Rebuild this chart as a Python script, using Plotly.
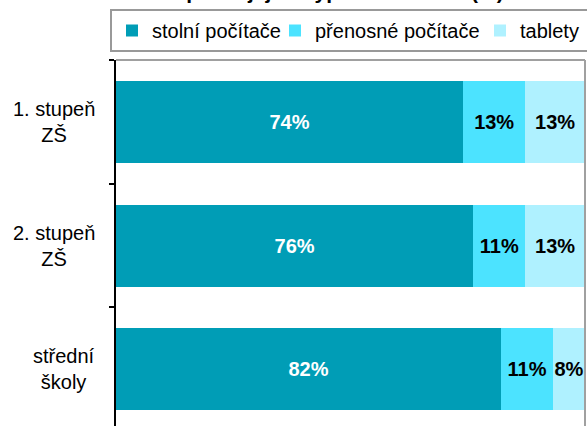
import plotly.graph_objects as go

# ---- data ----
categories = ["1. stupeň<br>ZŠ", "2. stupeň<br>ZŠ", "střední<br>školy"]
series_names = ["stolní počítače", "přenosné počítače", "tablety"]
stolni = [74.0, 76.2, 82.1]
prenosne = [13.3, 11.1, 11.1]
tablety = [12.7, 12.7, 6.8]
labels_stolni = ["74%", "76%", "82%"]
labels_prenosne = ["13%", "11%", "11%"]
labels_tablety = ["13%", "13%", "8%"]
title_text = "Počítače podle jejich typu ve školách (%)"

FONT = "Liberation Sans, Arial, sans-serif"
colors = ["#009DB6", "#4CE3FF", "#AFF1FF"]
label_colors = ["white", "black", "black"]
legend_widths = [118, 160, 68]

W, H = 587, 426
ML, MR, MT = 116, 2, 60
plot_h = H - MT
plot_w = W - ML - MR
band_px = 123.7
y_bottom = -0.5 + plot_h / band_px

fig = go.Figure()
for name, vals, labs, col, lc, lw in zip(series_names,
                                         [stolni, prenosne, tablety],
                                         [labels_stolni, labels_prenosne, labels_tablety],
                                         colors, label_colors, legend_widths):
    fig.add_trace(go.Bar(
        y=categories, x=vals, name=name, orientation="h",
        marker=dict(color=col, line=dict(width=0)),
        text=labs, textposition="inside", insidetextanchor="middle",
        constraintext="none", textangle=0,
        textfont=dict(family=FONT, size=20, color=lc, weight="bold"),
        hoverinfo="skip", legendwidth=lw,
    ))

# category labels (centered multi-line blocks, right-aligned to axis)
for c in categories:
    fig.add_annotation(
        xref="paper", yref="y", x=(97 - ML) / plot_w, y=c,
        text=c, showarrow=False, xanchor="right", yanchor="middle",
        align="center", font=dict(family=FONT, size=20, color="black"),
    )

# title (mostly cut off above the visible area)
fig.add_annotation(
    xref="paper", yref="paper", x=(299 - ML) / plot_w,
    y=(H - 4.5) / plot_h, text="<b>" + title_text + "</b>",
    showarrow=False, xanchor="center", yanchor="bottom",
    font=dict(family=FONT, size=21, color="black"),
)

# plot-area frame (top and right, gray)
fig.add_shape(type="line", xref="paper", yref="paper", x0=0, x1=1, y0=1, y1=1,
              line=dict(color="#A0A0A0", width=2))
fig.add_shape(type="line", xref="paper", yref="paper", x0=1, x1=1, y0=0, y1=1,
              line=dict(color="#A0A0A0", width=2))

fig.update_layout(
    width=W, height=H,
    margin=dict(l=ML, r=MR, t=MT, b=0, pad=0, autoexpand=False),
    barmode="stack", bargap=0.337,
    paper_bgcolor="white", plot_bgcolor="white",
    font=dict(family=FONT, size=19, color="black"),
    showlegend=True,
    legend=dict(
        orientation="h", x=-6 / plot_w, xanchor="left",
        y=(H - 9) / plot_h, yanchor="top",
        bordercolor="#999999", borderwidth=2, bgcolor="white",
        font=dict(family=FONT, size=20, color="black"),
        traceorder="normal", itemclick=False,
    ),
    xaxis=dict(range=[0, 100], visible=False, fixedrange=True),
    yaxis=dict(
        type="category", categoryorder="array", categoryarray=categories,
        range=[y_bottom, -0.5], showticklabels=False,
        showline=True, linecolor="black", linewidth=2,
        ticks="outside", tickson="boundaries", ticklen=5, tickwidth=2,
        tickcolor="black", showgrid=False, zeroline=False, fixedrange=True,
    ),
)

fig.write_html(
    "out.html",
    config={"displayModeBar": False, "staticPlot": True},
    post_script="document.body.style.margin='0';document.body.style.overflow='hidden';",
)
